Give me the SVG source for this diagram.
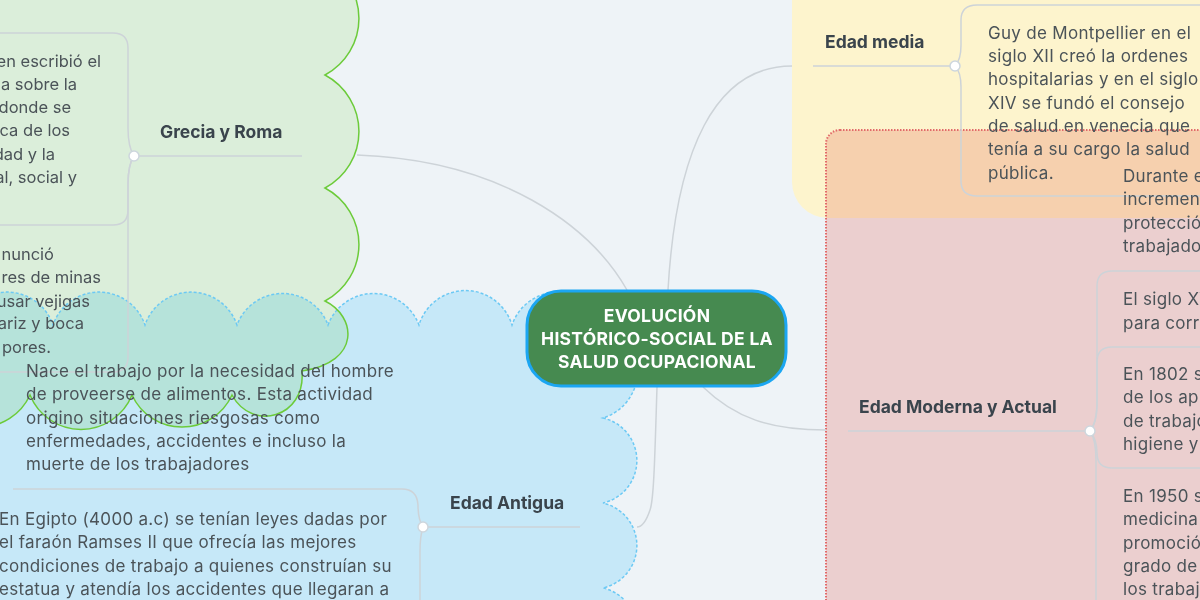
<svg xmlns="http://www.w3.org/2000/svg" width="1200" height="600" viewBox="0 0 1200 600">
<style>
.body{font-family:Inter,"Noto Sans","Liberation Sans",sans-serif;font-size:17px;letter-spacing:0.3px;fill:#4b5358}
.lclip{font-size:16.5px;letter-spacing:0px}
.title{font-family:Inter,"Noto Sans","Liberation Sans",sans-serif;font-size:17.5px;font-weight:700;fill:#3a444c}
.ctext{font-family:Inter,"Noto Sans","Liberation Sans",sans-serif;font-size:17.5px;letter-spacing:0.3px;font-weight:700;fill:#ffffff}
.conn{fill:none;stroke:#cdd3d8;stroke-width:1.5}
.dot{fill:#ffffff;stroke:#cdd6dd;stroke-width:1.5}
</style>
<rect x="0" y="0" width="1200" height="600" fill="#eef3f7"/>

<!-- Edad Antigua cloud (blue) -->
<g id="cloud-edad-antigua">
<path id="blue-shape" d="M -200,700 L -200,325 L -39,325 A 48.6 48.6 0 0 1 53,325 A 48.6 48.6 0 0 1 145,325 A 48.6 48.6 0 0 1 237,325 A 48.6 48.6 0 0 1 328,325 A 48.6 48.6 0 0 1 419,325 A 48.6 48.6 0 0 1 512,325 A 48.6 48.6 0 0 1 604,325 A 48.8 48.8 0 0 1 603,418 A 43.6 43.6 0 0 1 603,503 A 43.6 43.6 0 0 1 603,588 A 43.6 43.6 0 0 1 603,673 L 603,700 Z" fill="#c6e8f8"/>
</g>

<!-- Grecia y Roma cloud (green) -->
<g id="cloud-grecia">
<path id="green-shape" d="M -200,-151 L 325,-151 A 64 64 0 0 1 325,-38 A 64 64 0 0 1 325,75 A 64 64 0 0 1 325,188 A 64 64 0 0 1 325,301 C 356,316 362,362 302,371 C 306,418 252,432 232,395 A 55 55 0 0 1 132,395 A 55 55 0 0 1 30,395 A 55 55 0 0 1 -70,395 L -200,395 Z" fill="#ebfae1" style="mix-blend-mode:multiply"/>
</g>

<g id="cloud-strokes">
<path d="M -200,700 L -200,325 L -39,325 A 48.6 48.6 0 0 1 53,325 A 48.6 48.6 0 0 1 145,325 A 48.6 48.6 0 0 1 237,325 A 48.6 48.6 0 0 1 328,325 A 48.6 48.6 0 0 1 419,325 A 48.6 48.6 0 0 1 512,325 A 48.6 48.6 0 0 1 604,325 A 48.8 48.8 0 0 1 603,418 A 43.6 43.6 0 0 1 603,503 A 43.6 43.6 0 0 1 603,588 A 43.6 43.6 0 0 1 603,673 L 603,700" fill="none" stroke="#6cc9f4" stroke-width="1.5" stroke-dasharray="3 2"/>
<path d="M -200,-151 L 325,-151 A 64 64 0 0 1 325,-38 A 64 64 0 0 1 325,75 A 64 64 0 0 1 325,188 A 64 64 0 0 1 325,301 C 356,316 362,362 302,371 C 306,418 252,432 232,395 A 55 55 0 0 1 132,395 A 55 55 0 0 1 30,395 A 55 55 0 0 1 -70,395" fill="none" stroke="#6ccb3a" stroke-width="1.5"/>
</g>

<!-- Edad media box (yellow) -->
<g id="box-edad-media">
<rect x="792" y="-60" width="500" height="278" rx="36" fill="#fdf4cd"/>
</g>

<!-- Edad Moderna box (red) -->
<g id="box-edad-moderna">
<rect x="826" y="130" width="420" height="520" rx="14" fill="#e05a4a" fill-opacity="0.23" stroke="#e26a6a" stroke-width="2" stroke-dasharray="1.5 1.5"/>
</g>

<!-- connectors -->
<g id="connectors">
<path class="conn" d="M 627,290 C 590,225 500,160 357,155"/>
<path class="conn" d="M 668,290 C 676,150 715,66 792,66"/>
<path class="conn" d="M 657,387 C 655,450 654,500 650,510 C 646,522 642,527 637,527"/>
<path class="conn" d="M 703,387 C 735,418 770,430 826,430"/>

<!-- Grecia y Roma -->
<path class="conn" d="M 134,156 L 302,156"/>
<path class="conn" d="M 134,156 C 130,150 128,140 128,128 L 128,48 Q 128,33 113,33 L -10,33"/>
<path class="conn" d="M 134,156 C 130,162 128,172 128,184 L 128,210 Q 128,225 113,225 L -10,225"/>
<path class="conn" d="M 134,156 C 130,162 128,172 128,184 L 128,357 Q 128,372 113,372 L -10,372"/>

<!-- Edad Antigua -->
<path class="conn" d="M 423,527 L 580,527"/>
<path class="conn" d="M 423,527 C 419,521 418,514 418,505 Q 417,489 402,489 L 13,489"/>
<path class="conn" d="M 423,527 C 421,533 420,540 420,552 L 420,610"/>

<!-- Edad media -->
<path class="conn" d="M 813,66 L 955,66"/>
<path class="conn" d="M 955,66 C 959,62 961,55 961,45 L 961,20 Q 961,5 977,5 L 1210,5"/>
<path class="conn" d="M 955,66 C 959,70 961,77 961,87 L 961,181 Q 961,196 977,196 L 1210,196"/>

<!-- Edad Moderna -->
<path class="conn" d="M 848,431 L 1090,431"/>
<path class="conn" d="M 1090,431 C 1095,425 1097,415 1097,400 L 1097,286 Q 1097,271 1112,271 L 1210,271"/>
<path class="conn" d="M 1090,431 C 1095,425 1097,415 1097,405 L 1097,362 Q 1097,347 1112,347 L 1210,347"/>
<path class="conn" d="M 1090,431 C 1095,437 1097,445 1097,453 Q 1097,468 1112,468 L 1210,468"/>
<path class="conn" d="M 1090,431 C 1094,437 1096,445 1096,460 L 1096,610"/>
</g>

<!-- central node -->
<g id="node-central">
<rect x="527" y="291" width="259" height="95" rx="34" fill="#468a50" stroke="#1ba6f2" stroke-width="3"/>
<text class="ctext" x="657" y="322" text-anchor="middle">EVOLUCIÓN</text>
<text class="ctext" x="657" y="345" text-anchor="middle">HISTÓRICO-SOCIAL DE LA</text>
<text class="ctext" x="657" y="368" text-anchor="middle">SALUD OCUPACIONAL</text>
</g>

<!-- Grecia y Roma -->
<g id="node-grecia-roma">
<text class="title" x="160" y="138">Grecia y Roma</text>
<circle class="dot" cx="134" cy="156" r="5"/>
</g>
<g id="node-grecia-child1">
<text class="body lclip" text-anchor="end" x="101" y="67">en escribió el</text>
<text class="body lclip" text-anchor="end" x="77" y="90">a sobre la</text>
<text class="body lclip" text-anchor="end" x="71" y="113">donde se</text>
<text class="body lclip" text-anchor="end" x="70" y="136">ca de los</text>
<text class="body lclip" text-anchor="end" x="55" y="160">dad y la</text>
<text class="body lclip" text-anchor="end" x="77" y="183">al, social y</text>
</g>
<g id="node-grecia-child2">
<text class="body lclip" text-anchor="end" x="54" y="260">nunció</text>
<text class="body lclip" text-anchor="end" x="101" y="283">res de minas</text>
<text class="body lclip" text-anchor="end" x="90" y="307">usar vejigas</text>
<text class="body lclip" text-anchor="end" x="84" y="329">ariz y boca</text>
<text class="body lclip" text-anchor="end" x="51" y="353">pores.</text>
</g>

<!-- Edad Antigua -->
<g id="node-edad-antigua">
<text class="title" x="450" y="509">Edad Antigua</text>
<circle class="dot" cx="423" cy="527" r="5"/>
</g>
<g id="node-antigua-child1">
<text class="body" x="26" y="377">Nace el trabajo por la necesidad del hombre</text>
<text class="body" x="26" y="400">de proveerse de alimentos. Esta actividad</text>
<text class="body" x="26" y="424">origino situaciones riesgosas como</text>
<text class="body" x="26" y="447">enfermedades, accidentes e incluso la</text>
<text class="body" x="26" y="470">muerte de los trabajadores</text>
</g>
<g id="node-antigua-child2">
<text class="body" x="-1" y="525">En Egipto (4000 a.c) se tenían leyes dadas por</text>
<text class="body" x="-1" y="548">el faraón Ramses II que ofrecía las mejores</text>
<text class="body" x="-1" y="572">condiciones de trabajo a quienes construían su</text>
<text class="body" x="-1" y="595">estatua y atendía los accidentes que llegaran a</text>
</g>

<!-- Edad media -->
<g id="node-edad-media">
<text class="title" x="825" y="48">Edad media</text>
<circle class="dot" cx="955" cy="66" r="5"/>
</g>
<g id="node-media-child1">
<text class="body" x="988" y="39">Guy de Montpellier en el</text>
<text class="body" x="988" y="62">siglo XII creó la ordenes</text>
<text class="body" x="988" y="85">hospitalarias y en el siglo</text>
<text class="body" x="988" y="109">XIV se fundó el consejo</text>
<text class="body" x="988" y="132">de salud en venecia que</text>
<text class="body" x="988" y="155">tenía a su cargo la salud</text>
<text class="body" x="988" y="179">pública.</text>
</g>

<!-- Edad Moderna y Actual -->
<g id="node-edad-moderna">
<text class="title" x="859" y="413">Edad Moderna y Actual</text>
<circle class="dot" cx="1090" cy="431" r="5"/>
</g>
<g id="node-moderna-child1">
<text class="body" x="1123" y="182">Durante e</text>
<text class="body" x="1123" y="205">incremen</text>
<text class="body" x="1123" y="229">protecció</text>
<text class="body" x="1123" y="252">trabajado</text>
</g>
<g id="node-moderna-child2">
<text class="body" x="1123" y="305">El siglo XV</text>
<text class="body" x="1123" y="329">para corre</text>
</g>
<g id="node-moderna-child3">
<text class="body" x="1123" y="380">En 1802 s</text>
<text class="body" x="1123" y="403">de los apr</text>
<text class="body" x="1123" y="427">de trabajo</text>
<text class="body" x="1123" y="450">higiene y</text>
</g>
<g id="node-moderna-child4">
<text class="body" x="1123" y="502">En 1950 s</text>
<text class="body" x="1123" y="525">medicina</text>
<text class="body" x="1123" y="549">promoció</text>
<text class="body" x="1123" y="572">grado de</text>
<text class="body" x="1123" y="595">los trabaj</text>
</g>
</svg>
